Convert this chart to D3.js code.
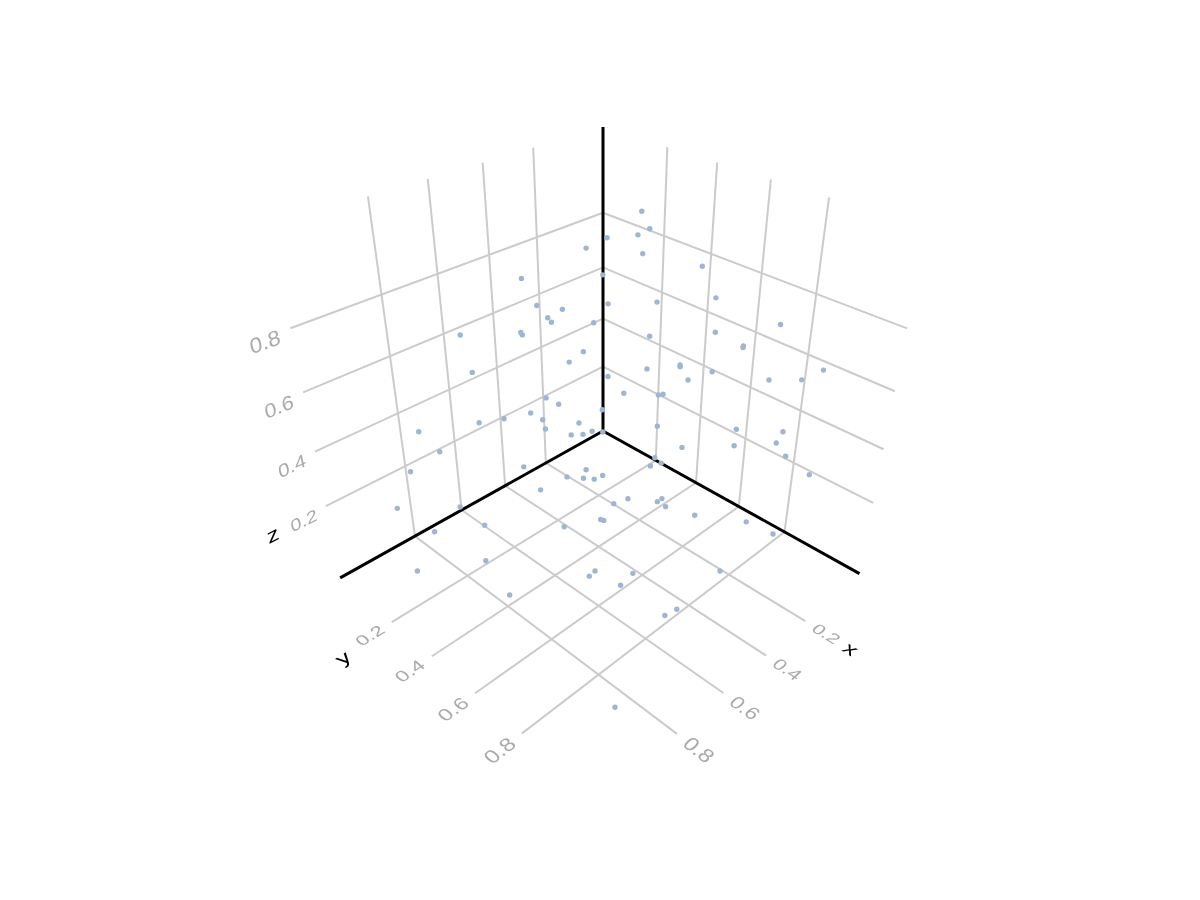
<!DOCTYPE html><html><head><meta charset="utf-8"><script src="https://cdn.jsdelivr.net/npm/d3@7"></script>
<style>html,body{margin:0;background:#fff}</style></head><body><svg id="c" width="1200" height="900"></svg>
<script>
const tickValues=[0.2,0.4,0.6,0.8];
const xDomain=[-0.105,1.093],yDomain=[-0.082,1.102],zDomain=[-0.088,1.0886];
const xValues=[.232,.310,.581,.315,.368,.584,.501,.565,.560,.431,.674,.666,.812,.510,.564,.790,.471,.140,.177,.213,.241,.226,.273,.333,.196,.318,.394,.271,.279,.438,.389,.380,.322,.096,.372,.213,.148,.648,.608,.501,.682,.742,.657,.793,.559,.910,.648,.525,.493,.555,.581,.880,.707,.601,.934,.642,.613,.605,.587,.696,.967,.848,.834,.743,.907,.679,.676,.463,.415,.403,.412,.278,.179,.179,.276,.375,.155,.418,.433,.412,.094,.558,.466,.486,.614,.475,.398,.241,.169,.985,.891,.784,.800,.689,.425,.747,.913,.623,.665,.933];
const yValues=[.270,.261,.284,.335,.409,.347,.360,.369,.378,.414,.381,.377,.297,.452,.451,.306,.511,.323,.390,.377,.423,.632,.723,.565,.887,.764,.596,.826,.831,.629,.706,.699,.766,.978,.723,.881,.945,.444,.451,.518,.415,.370,.436,.322,.481,.194,.436,.500,.512,.493,.471,.242,.402,.552,.162,.515,.553,.589,.605,.459,.115,.268,.362,.608,.207,.689,.698,.566,.654,.661,.652,.833,.925,.907,.829,.717,.929,.652,.649,.672,.980,.678,.727,.727,.676,.750,.798,.874,.928,.208,.430,.772,.766,.824,.926,.833,.558,.933,.926,.995];
const zValues=[.912,.900,.900,.842,.794,.842,.806,.806,.794,.759,.806,.794,.818,.712,.700,.700,.641,.983,.959,.947,.912,.936,.889,.842,.842,.818,.771,.783,.783,.700,.724,.712,.700,.700,.677,.677,.677,.618,.583,.547,.571,.559,.547,.547,.512,.512,.512,.477,.465,.477,.477,.453,.394,.406,.371,.383,.383,.394,.406,.336,.230,.253,.230,.312,.159,.347,.347,.606,.618,.618,.512,.524,.512,.465,.465,.453,.418,.406,.383,.394,.347,.347,.324,.324,.359,.312,.265,.194,.136,.053,.171,.277,.265,.241,.147,.241,.136,.136,.136,.041];
const tx=d3.scaleLinear().domain(xDomain).range([0,1]),ty=d3.scaleLinear().domain(yDomain).range([0,1]),tz=d3.scaleLinear().domain(zDomain).range([0,1]);
function P(a,b,c){const w=1-.1857*a-.171*b-.172*c;return[(603-326*a+109.5*b-103.7*c)/w,(431+39.6*a+44.5*b-325.8*c)/w];}
const svg=d3.select("#c");
const line=d3.line();
function seg(p,q,black){svg.append("path").attr("d",line([P(...p),P(...q)])).attr("fill","none").attr("stroke",black?"#000":"#cbcbcb").attr("stroke-width",black?3:2);}
tickValues.forEach(v=>{const a=tx(v),b=ty(v),c=tz(v);seg([a,0,0],[a,1,0]);seg([a,0,0],[a,0,1]);seg([0,b,0],[1,b,0]);seg([0,b,0],[0,b,1]);seg([0,0,c],[1,0,c]);seg([0,0,c],[0,1,c]);});
seg([0,0,0],[1,0,0],1);seg([0,0,0],[0,1,0],1);seg([0,0,0],[0,0,1],1);
const pts=xValues.map((x,i)=>[tx(x),ty(yValues[i]),tz(zValues[i])]);
svg.selectAll("circle").data(pts).join("circle").attr("cx",d=>P(...d)[0]).attr("cy",d=>P(...d)[1]).attr("r",2.7).attr("fill","#a0b5d1");
const labels=svg.append("g").attr("opacity",.999);
function lab(t,p,base,up,col,fs){const S=.0034,e=1e-3,o=P(...p);const J=d=>{const q=P(p[0]+d[0]*e,p[1]+d[1]*e,p[2]+d[2]*e);return[(q[0]-o[0])/e,(q[1]-o[1])/e];};
 const B=J(base),U=J(up);labels.append("text").text(t).attr("text-anchor","middle").attr("dominant-baseline","central").attr("font-family","Liberation Sans").attr("font-size",fs).attr("fill",col)
 .attr("transform",`matrix(${B[0]*S},${B[1]*S},${-U[0]*S},${-U[1]*S},${o[0]},${o[1]})`);}
tickValues.forEach(v=>{const s=String(v);
 lab(s,[tx(v),1.065,0],[0,1,0],[-1,0,0],"#aaa",15.5);
 lab(s,[1.066,ty(v),0],[-1,0,0],[0,-1,0],"#aaa",15.5);
 lab(s,[1.065,0,tz(v)-.01],[-1,0,0],[0,0,1],"#aaa",15.5);});
lab("x",[.2545,1.14,0],[0,1,0],[-1,0,0],"#000",18);
lab("y",[1.155,.256,0],[-1,0,0],[0,-1,0],"#000",18);
lab("z",[1.15,0,.24],[-1,0,0],[0,0,1],"#000",18);
</script></body></html>
